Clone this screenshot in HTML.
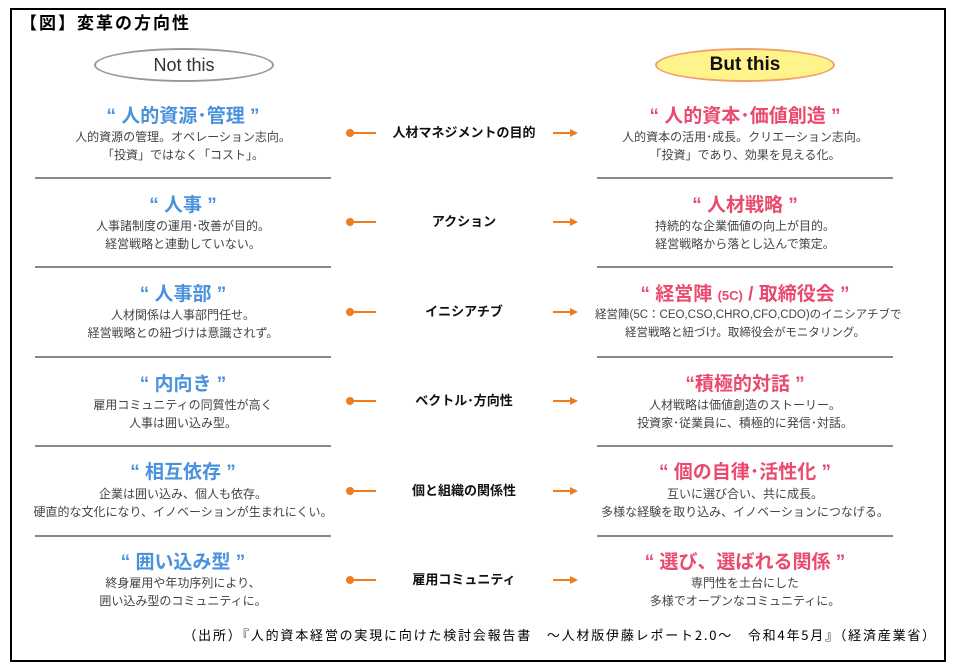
<!DOCTYPE html>
<html><head><meta charset="utf-8"><style>
body{margin:0;width:959px;height:672px;background:#fff;position:relative;overflow:hidden;font-family:"Liberation Sans","Noto Sans CJK JP",sans-serif;}
.frame{position:absolute;left:10px;top:8px;width:932px;height:650px;border:2px solid #000;}
.abs{position:absolute;}
.t{position:absolute;text-align:center;font-weight:bold;font-size:19px;white-space:nowrap;line-height:22px;}
.s{position:absolute;text-align:center;font-size:12px;color:#444;white-space:nowrap;line-height:18px;}
.l{left:33px;width:300px;}
.r{left:595px;width:300px;}
.blue{color:#4a92dc;}
.pink{color:#ea4a6e;}
.sep{position:absolute;height:2px;background:#888;}
.mid{position:absolute;left:378px;width:172px;text-align:center;font-weight:bold;font-size:13px;color:#111;white-space:nowrap;line-height:16px;}
.dot{position:absolute;width:8px;height:8px;border-radius:50%;background:#f07c1e;}
.ln{position:absolute;height:2px;background:#f07c1e;}
.ar{position:absolute;width:0;height:0;border-left:8px solid #f07c1e;border-top:4px solid transparent;border-bottom:4px solid transparent;}
</style></head><body>
<div class="frame"></div>
<div class="abs" style="left:20px;top:11px;font-size:17px;font-weight:bold;letter-spacing:2px;font-family:'Noto Sans CJK JP',sans-serif;line-height:22px;">【図】変革の方向性</div>
<div class="abs" style="left:94px;top:48px;width:176px;height:30px;border:2px solid #999;border-radius:50%;text-align:center;line-height:30px;font-size:18px;color:#333;">Not this</div>
<div class="abs" style="left:655px;top:48px;width:176px;height:30px;border:2px solid #f2a06a;border-radius:50%;background:#fff48c;text-align:center;line-height:30px;font-size:19px;font-weight:bold;color:#111;">But this</div>

<div class="t l blue" style="top:106px">“ 人的資源･管理 ”</div>
<div class="s l" style="top:128px">人的資源の管理。オペレーション志向。<br>「投資」ではなく「コスト」。</div>
<div class="t r pink" style="top:106px">“ 人的資本･価値創造 ”</div>
<div class="s r" style="top:128px">人的資本の活用･成長。クリエーション志向。<br>「投資」であり、効果を見える化。</div>

<div class="t l blue" style="top:195px">“ 人事 ”</div>
<div class="s l" style="top:217px">人事諸制度の運用･改善が目的。<br>経営戦略と連動していない。</div>
<div class="t r pink" style="top:195px">“ 人材戦略 ”</div>
<div class="s r" style="top:217px">持続的な企業価値の向上が目的。<br>経営戦略から落とし込んで策定。</div>

<div class="t l blue" style="top:284px">“ 人事部 ”</div>
<div class="s l" style="top:306px">人材関係は人事部門任せ。<br>経営戦略との紐づけは意識されず。</div>
<div class="t r pink" style="top:284px">“ 経営陣 <span style="font-size:13px">(5C)</span> / 取締役会 ”</div>
<div class="s r" style="top:306px;font-size:11.5px">経営陣(5C：CEO,CSO,CHRO,CFO,CDO)のイニシアチブで<br>経営戦略と紐づけ。取締役会がモニタリング。</div>

<div class="t l blue" style="top:374px">“ 内向き ”</div>
<div class="s l" style="top:396px">雇用コミュニティの同質性が高く<br>人事は囲い込み型。</div>
<div class="t r pink" style="top:374px">“積極的対話 ”</div>
<div class="s r" style="top:396px">人材戦略は価値創造のストーリー。<br>投資家･従業員に、積極的に発信･対話。</div>

<div class="t l blue" style="top:462px">“ 相互依存 ”</div>
<div class="s l" style="top:485px">企業は囲い込み、個人も依存。<br>硬直的な文化になり、イノベーションが生まれにくい。</div>
<div class="t r pink" style="top:462px">“ 個の自律･活性化 ”</div>
<div class="s r" style="top:485px">互いに選び合い、共に成長。<br>多様な経験を取り込み、イノベーションにつなげる。</div>

<div class="t l blue" style="top:552px">“ 囲い込み型 ”</div>
<div class="s l" style="top:574px">終身雇用や年功序列により、<br>囲い込み型のコミュニティに。</div>
<div class="t r pink" style="top:552px">“ 選び、選ばれる関係 ”</div>
<div class="s r" style="top:574px">専門性を土台にした<br>多様でオープンなコミュニティに。</div>

<div class="sep" style="left:35px;width:296px;top:177px"></div><div class="sep" style="left:597px;width:296px;top:177px"></div>
<div class="sep" style="left:35px;width:296px;top:266px"></div><div class="sep" style="left:597px;width:296px;top:266px"></div>
<div class="sep" style="left:35px;width:296px;top:356px"></div><div class="sep" style="left:597px;width:296px;top:356px"></div>
<div class="sep" style="left:35px;width:296px;top:445px"></div><div class="sep" style="left:597px;width:296px;top:445px"></div>
<div class="sep" style="left:35px;width:296px;top:535px"></div><div class="sep" style="left:597px;width:296px;top:535px"></div>

<div class="mid" style="top:125px">人材マネジメントの目的</div>
<div class="mid" style="top:214px">アクション</div>
<div class="mid" style="top:304px">イニシアチブ</div>
<div class="mid" style="top:393px">ベクトル･方向性</div>
<div class="mid" style="top:483px">個と組織の関係性</div>
<div class="mid" style="top:572px">雇用コミュニティ</div>

<div class="dot" style="left:346px;top:129px"></div><div class="ln" style="left:352px;width:24px;top:132px"></div><div class="ln" style="left:553px;width:18px;top:132px"></div><div class="ar" style="left:570px;top:129px"></div>
<div class="dot" style="left:346px;top:218px"></div><div class="ln" style="left:352px;width:24px;top:221px"></div><div class="ln" style="left:553px;width:18px;top:221px"></div><div class="ar" style="left:570px;top:218px"></div>
<div class="dot" style="left:346px;top:308px"></div><div class="ln" style="left:352px;width:24px;top:311px"></div><div class="ln" style="left:553px;width:18px;top:311px"></div><div class="ar" style="left:570px;top:308px"></div>
<div class="dot" style="left:346px;top:397px"></div><div class="ln" style="left:352px;width:24px;top:400px"></div><div class="ln" style="left:553px;width:18px;top:400px"></div><div class="ar" style="left:570px;top:397px"></div>
<div class="dot" style="left:346px;top:487px"></div><div class="ln" style="left:352px;width:24px;top:490px"></div><div class="ln" style="left:553px;width:18px;top:490px"></div><div class="ar" style="left:570px;top:487px"></div>
<div class="dot" style="left:346px;top:576px"></div><div class="ln" style="left:352px;width:24px;top:579px"></div><div class="ln" style="left:553px;width:18px;top:579px"></div><div class="ar" style="left:570px;top:576px"></div>

<div class="abs" style="left:100px;top:625px;width:837px;text-align:right;font-size:13px;letter-spacing:1.8px;color:#000;white-space:nowrap;font-family:'Noto Sans CJK JP',sans-serif;">（出所）『人的資本経営の実現に向けた検討会報告書　～人材版伊藤レポート2.0～　令和4年5月』（経済産業省）</div>
</body></html>
